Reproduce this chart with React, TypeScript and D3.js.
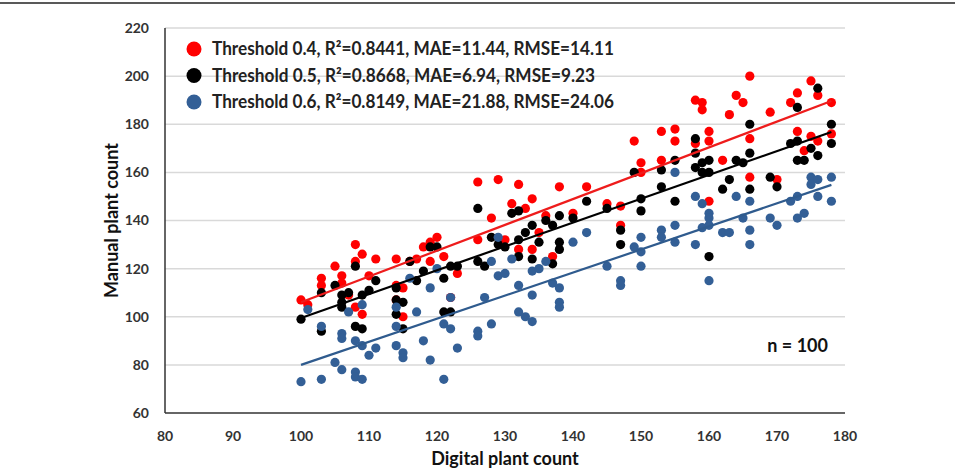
import React from 'react';
import * as d3 from 'd3';

// digital count vs manual count, one list per threshold
const threshold04: [number, number][] = [
  [100, 107], [101, 105], [103, 116], [103, 113], [105, 121], [106, 117], [106, 114], [107, 109],
  [108, 130], [108, 123], [108, 104], [109, 126], [109, 101], [110, 117], [111, 124], [114, 124],
  [114, 113], [114, 107], [115, 112], [115, 100], [116, 123], [117, 124], [118, 129], [119, 131],
  [119, 123], [120, 133], [121, 125], [122, 108], [123, 118], [126, 156], [126, 132], [128, 141],
  [129, 157], [130, 132], [131, 147], [132, 155], [132, 128], [133, 145], [134, 149], [134, 128],
  [135, 135], [136, 142], [137, 125], [138, 154], [140, 143], [142, 154], [145, 147], [147, 146],
  [147, 138], [149, 173], [150, 164], [150, 160], [153, 177], [153, 165], [155, 178], [155, 173],
  [158, 190], [158, 172], [159, 189], [159, 186], [160, 177], [160, 173], [160, 148], [162, 165],
  [163, 184], [164, 192], [165, 189], [166, 200], [166, 174], [166, 158], [169, 185], [170, 157],
  [172, 189], [173, 193], [173, 177], [174, 169], [175, 198], [175, 175], [176, 192], [176, 173],
  [178, 189], [178, 176],
];

const threshold05: [number, number][] = [
  [100, 99], [103, 110], [103, 94], [105, 113], [106, 106], [106, 104], [106, 109], [107, 110],
  [108, 121], [108, 96], [109, 109], [109, 95], [110, 111], [111, 115], [114, 112], [114, 101],
  [114, 107], [115, 106], [115, 95], [116, 123], [117, 115], [118, 119], [119, 129], [120, 129],
  [121, 116], [121, 102], [122, 102], [122, 121], [123, 121], [126, 145], [126, 123], [127, 121],
  [128, 133], [129, 130], [130, 129], [131, 143], [132, 144], [132, 132], [132, 125], [133, 135],
  [134, 138], [134, 124], [135, 131], [136, 140], [137, 138], [137, 122], [138, 142], [138, 131],
  [138, 128], [140, 141], [142, 148], [145, 145], [147, 136], [147, 130], [149, 160], [150, 149],
  [150, 144], [153, 161], [153, 154], [155, 165], [155, 148], [158, 174], [158, 168], [158, 162],
  [159, 164], [159, 160], [160, 165], [160, 160], [160, 125], [162, 153], [163, 157], [164, 165],
  [165, 164], [166, 180], [166, 168], [166, 153], [169, 158], [170, 154], [172, 172], [173, 187],
  [173, 173], [173, 165], [174, 165], [175, 170], [176, 195], [176, 167], [178, 180], [178, 172],
];

const threshold06: [number, number][] = [
  [100, 73], [101, 103], [103, 96], [103, 74], [105, 81], [106, 93], [106, 91], [106, 78],
  [107, 102], [108, 90], [108, 77], [108, 75], [109, 105], [109, 88], [109, 74], [110, 84],
  [111, 87], [114, 104], [114, 96], [114, 88], [115, 85], [115, 83], [116, 116], [117, 102],
  [118, 90], [119, 112], [119, 82], [120, 120], [121, 97], [121, 74], [122, 108], [122, 95],
  [123, 87], [126, 94], [126, 92], [127, 108], [128, 123], [128, 97], [129, 133], [129, 117],
  [130, 118], [131, 124], [132, 113], [132, 102], [133, 100], [134, 119], [134, 109], [134, 98],
  [135, 120], [136, 123], [137, 114], [138, 112], [138, 106], [138, 104], [140, 131], [142, 135],
  [145, 121], [147, 115], [147, 113], [149, 129], [150, 133], [150, 127], [150, 121], [153, 136],
  [153, 133], [155, 160], [155, 138], [155, 131], [158, 150], [158, 130], [159, 147], [159, 137],
  [160, 143], [160, 141], [160, 138], [160, 115], [162, 135], [163, 135], [164, 150], [165, 141],
  [166, 148], [166, 136], [166, 130], [169, 141], [170, 138], [172, 148], [173, 150], [173, 141],
  [174, 143], [175, 158], [175, 155], [176, 157], [176, 150], [178, 158], [178, 148],
];

const legendLabels = [
  'Threshold 0.4, R\u00b2=0.8441, MAE=11.44, RMSE=14.11',
  'Threshold 0.5, R\u00b2=0.8668, MAE=6.94, RMSE=9.23',
  'Threshold 0.6, R\u00b2=0.8149, MAE=21.88, RMSE=24.06',
];
// linear trend lines: [slope, intercept]
const trendLines: [number, number][] = [
  [1.073, -1.3],
  [0.991, 0.4],
  [0.959, -15.9],
];
const trendExtent = [100, 178];
const xTicks = [80, 90, 100, 110, 120, 130, 140, 150, 160, 170, 180];
const yTicks = [60, 80, 100, 120, 140, 160, 180, 200, 220];
const seriesColors = ['#ff0000', '#000000', '#335f96'];
const lineColors = ['#ee1c1c', '#000000', '#2f5b8e'];
const legendWidths = [402, 383, 402];

export default function App() {
  const width = 955;
  const height = 470;
  const margin = { top: 28, right: 110, bottom: 57, left: 165 };

  const x = d3.scaleLinear().domain([80, 180]).range([margin.left, width - margin.right]);
  const y = d3.scaleLinear().domain([60, 220]).range([height - margin.bottom, margin.top]);

  const series = [threshold04, threshold05, threshold06];
  const font = 'Lato, "Open Sans", sans-serif';

  return (
    <svg
      width={width}
      height={height}
      style={{ position: 'absolute', left: 0, top: 0, background: '#fff' }}
    >
      <rect width={width} height={height} fill="#fff" />
      <line x1={0} x2={width} y1={3} y2={3} stroke="#222" strokeWidth={1.5} />

      {/* grid */}
      {yTicks.slice(1).map((t) => (
        <line key={t} x1={x(80)} x2={x(180)} y1={y(t)} y2={y(t)} stroke="#d9d9d9" strokeWidth={1.5} />
      ))}

      {/* axes */}
      <line x1={x(80)} x2={x(80)} y1={y(220)} y2={y(60)} stroke="#333" strokeWidth={1.5} />
      <line x1={x(80)} x2={x(180)} y1={y(60)} y2={y(60)} stroke="#333" strokeWidth={1.5} />

      {yTicks.map((t) => (
        <text
          key={t}
          x={x(80) - 16}
          y={y(t)}
          dy="0.35em"
          textAnchor="end"
          fontFamily={font}
          fontWeight={700}
          fontSize={14}
          fill="#333"
        >
          {t}
        </text>
      ))}
      {xTicks.map((t) => (
        <text
          key={t}
          x={x(t)}
          y={y(60) + 28}
          textAnchor="middle"
          fontFamily={font}
          fontWeight={700}
          fontSize={14}
          fill="#333"
        >
          {t}
        </text>
      ))}

      <text
        transform={`translate(118,${(y(60) + y(220)) / 2}) rotate(-90)`}
        textAnchor="middle"
        fontFamily={font}
        fontWeight={700}
        fontSize={18}
        fill="#111"
      >
        Manual plant count
      </text>
      <text
        x={(x(80) + x(180)) / 2}
        y={465}
        textAnchor="middle"
        fontFamily={font}
        fontWeight={700}
        fontSize={18}
        fill="#111"
      >
        Digital plant count
      </text>

      {/* points */}
      {series.map((data, si) => (
        <g key={si} fill={seriesColors[si]}>
          {data.map((d, i) => (
            <circle key={i} cx={x(d[0])} cy={y(d[1])} r={4.6} />
          ))}
        </g>
      ))}

      {/* trend lines */}
      {trendLines.map(([m, b], i) => (
        <line
          key={i}
          x1={x(trendExtent[0])}
          x2={x(trendExtent[1])}
          y1={y(m * trendExtent[0] + b)}
          y2={y(m * trendExtent[1] + b)}
          stroke={lineColors[i]}
          strokeWidth={2.2}
        />
      ))}

      {/* legend */}
      {legendLabels.map((label, i) => (
        <g key={i} transform={`translate(194,${49 + i * 26.5})`}>
          <circle r={7.5} fill={seriesColors[i]} />
          <text
            x={18}
            dy="0.36em"
            fontFamily={font}
            fontWeight={700}
            fontSize={18}
            textLength={legendWidths[i]}
            lengthAdjust="spacingAndGlyphs"
            fill="#222"
          >
            {label}
          </text>
        </g>
      ))}

      <text
        x={828}
        y={352}
        textAnchor="end"
        fontFamily={font}
        fontWeight={700}
        fontSize={18}
        fill="#111"
      >
        n = 100
      </text>
    </svg>
  );
}
